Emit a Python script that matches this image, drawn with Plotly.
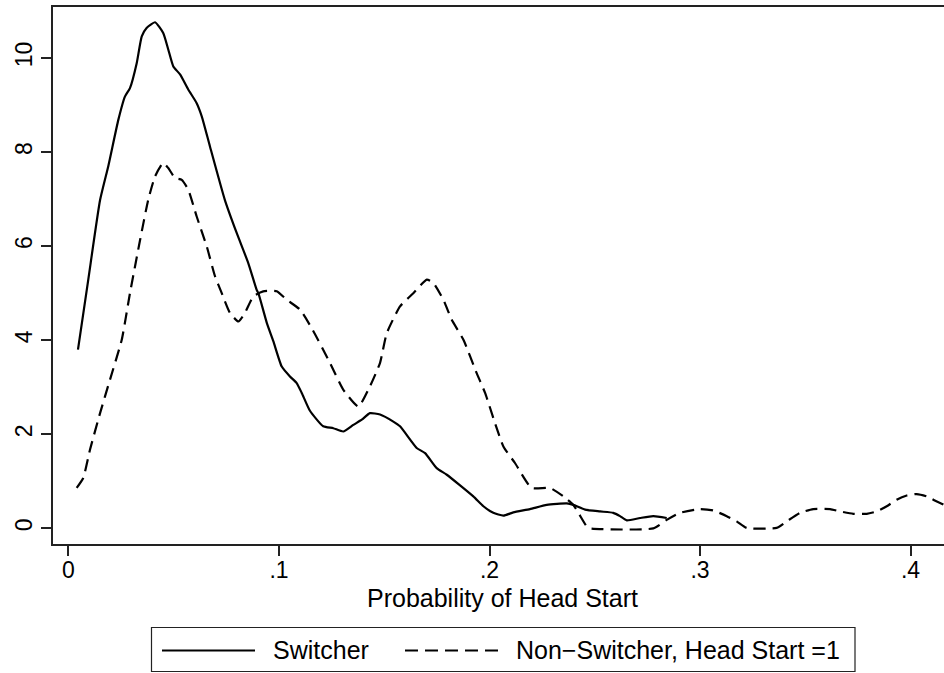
import plotly.graph_objects as go

# Kernel density estimates of the predicted probability of Head Start
switcher_x = [0.0045, 0.0094, 0.0150, 0.0189, 0.0237, 0.0268, 0.0292, 0.0324, 0.0348, 0.0371,
              0.0411, 0.0450, 0.0474, 0.0498, 0.0530, 0.0569, 0.0609, 0.0633, 0.0672, 0.0743,
              0.0799, 0.0854, 0.0894, 0.0902, 0.0942, 0.0973, 0.1013, 0.1052, 0.1084, 0.1108,
              0.1147, 0.1210, 0.1258, 0.1305, 0.1353, 0.1393, 0.1432, 0.1480, 0.1543, 0.1575,
              0.1654, 0.1694, 0.1749, 0.1797, 0.1923, 0.1971, 0.2018, 0.2066, 0.2113, 0.2192,
              0.2272, 0.2367, 0.2398, 0.2454, 0.2525, 0.2588, 0.2620, 0.2652, 0.2715, 0.2778,
              0.2842]
switcher_y = [3.80, 5.29, 6.98, 7.70, 8.69, 9.18, 9.36, 9.89, 10.46, 10.64,
              10.76, 10.53, 10.18, 9.82, 9.65, 9.33, 9.04, 8.76, 8.12, 6.98,
              6.28, 5.64, 5.07, 5.00, 4.37, 3.98, 3.44, 3.23, 3.09, 2.88,
              2.50, 2.17, 2.13, 2.06, 2.20, 2.31, 2.45, 2.42, 2.27, 2.17,
              1.71, 1.60, 1.28, 1.14, 0.68, 0.47, 0.33, 0.27, 0.34, 0.41,
              0.50, 0.53, 0.50, 0.40, 0.36, 0.33, 0.26, 0.17, 0.22, 0.26,
              0.22]

nonswitcher_x = [0.0039, 0.0070, 0.0102, 0.0150, 0.0197, 0.0253, 0.0292, 0.0340, 0.0379, 0.0411,
                 0.0450, 0.0474, 0.0506, 0.0538, 0.0569, 0.0609, 0.0657, 0.0696, 0.0728, 0.0767,
                 0.0807, 0.0838, 0.0878, 0.0925, 0.0989, 0.1037, 0.1100, 0.1160, 0.1242, 0.1305,
                 0.1377, 0.1432, 0.1480, 0.1512, 0.1575, 0.1638, 0.1702, 0.1733, 0.1781, 0.1820,
                 0.1876, 0.1939, 0.1979, 0.2026, 0.2066, 0.2121, 0.2200, 0.2287, 0.2351, 0.2398,
                 0.2462, 0.2477, 0.2778, 0.2842, 0.2905, 0.3000, 0.3063, 0.3127, 0.3174, 0.3222,
                 0.3364, 0.3412, 0.3475, 0.3538, 0.3618, 0.3665, 0.3728, 0.3792, 0.3839, 0.3887,
                 0.3934, 0.3982, 0.4029, 0.4077, 0.4125, 0.4160, 0.4200]
nonswitcher_y = [0.86, 1.07, 1.67, 2.45, 3.16, 4.01, 5.00, 6.13, 6.99, 7.48,
                 7.77, 7.66, 7.45, 7.41, 7.20, 6.63, 5.99, 5.36, 5.00, 4.58,
                 4.40, 4.58, 4.93, 5.04, 5.04, 4.86, 4.65, 4.22, 3.52, 2.95,
                 2.59, 3.02, 3.52, 4.15, 4.72, 5.00, 5.29, 5.22, 4.86, 4.44,
                 4.01, 3.30, 2.88, 2.24, 1.74, 1.39, 0.86, 0.86, 0.68, 0.50,
                 0.04, 0.00, 0.00, 0.18, 0.33, 0.41, 0.38, 0.26, 0.15, 0.01,
                 0.01, 0.15, 0.33, 0.41, 0.41, 0.36, 0.31, 0.31, 0.36, 0.47,
                 0.61, 0.70, 0.73, 0.68, 0.57, 0.50, 0.40]

x_ticks = [0, 0.1, 0.2, 0.3, 0.4]
x_tick_labels = ["0", ".1", ".2", ".3", ".4"]
y_ticks = [0, 2, 4, 6, 8, 10]
y_tick_labels = ["0", "2", "4", "6", "8", "10"]

series_names = ["Switcher", "Non\u2212Switcher, Head Start =1"]
x_title = "Probability of Head Start"

W, H = 944, 673
ML, MR, MT, MB = 53, 0, 7, 129
FONT = "Liberation Sans, Arial, Helvetica, sans-serif"
DASH = "12px,7px"
LINE_W = 2.2


def px_to_paper_x(px):
    return (px - ML) / (W - ML - MR)


def px_to_paper_y(py):
    return (H - MB - py) / (H - MT - MB)


fig = go.Figure()
fig.add_trace(go.Scatter(x=switcher_x, y=switcher_y, mode="lines", name=series_names[0],
                         line=dict(color="black", width=LINE_W, shape="spline", smoothing=0.5),
                         showlegend=False))
fig.add_trace(go.Scatter(x=nonswitcher_x, y=nonswitcher_y, mode="lines", name=series_names[1],
                         line=dict(color="black", width=LINE_W, dash=DASH,
                                   shape="spline", smoothing=0.5),
                         showlegend=False))

# Legend box below the plot, with line samples and labels
shapes = [
    dict(type="rect", xref="paper", yref="paper",
         x0=px_to_paper_x(151.5), x1=px_to_paper_x(855),
         y0=px_to_paper_y(671.5), y1=px_to_paper_y(627.5),
         line=dict(color="#222", width=1.2), fillcolor="white", layer="above"),
    dict(type="line", xref="paper", yref="paper",
         x0=px_to_paper_x(162), x1=px_to_paper_x(255),
         y0=px_to_paper_y(650.5), y1=px_to_paper_y(650.5),
         line=dict(color="black", width=LINE_W)),
    dict(type="line", xref="paper", yref="paper",
         x0=px_to_paper_x(405), x1=px_to_paper_x(499),
         y0=px_to_paper_y(650.5), y1=px_to_paper_y(650.5),
         line=dict(color="black", width=LINE_W, dash="13px,7px")),
]

annotations = [
    dict(text=series_names[0], xref="paper", yref="paper",
         x=px_to_paper_x(271), y=px_to_paper_y(650), xanchor="left", yanchor="middle",
         showarrow=False, font=dict(family=FONT, size=25, color="black")),
    dict(text=series_names[1], xref="paper", yref="paper",
         x=px_to_paper_x(514), y=px_to_paper_y(650), xanchor="left", yanchor="middle",
         showarrow=False, font=dict(family=FONT, size=25, color="black")),
    dict(text=x_title, xref="paper", yref="paper",
         x=px_to_paper_x(502), y=px_to_paper_y(598), xanchor="center", yanchor="middle",
         showarrow=False, font=dict(family=FONT, size=25, color="black")),
]

fig.update_layout(
    width=W, height=H,
    margin=dict(l=ML, r=MR, t=MT, b=MB, pad=0),
    paper_bgcolor="white", plot_bgcolor="white",
    font=dict(family=FONT, size=23, color="black"),
    shapes=shapes, annotations=annotations,
    showlegend=False,
)
fig.update_xaxes(
    range=[-0.00736, 0.4159],
    tickvals=x_ticks, ticktext=x_tick_labels,
    ticks="outside", ticklen=10, tickwidth=1.5, tickcolor="#222",
    ticklabelstandoff=-5,
    showline=True, linecolor="#222", linewidth=1.5, mirror=True,
    showgrid=False, zeroline=False,
    tickfont=dict(family=FONT, size=23, color="black"),
)
fig.update_yaxes(
    range=[-0.332, 11.084],
    tickvals=y_ticks, ticktext=y_tick_labels, tickangle=-90,
    ticks="outside", ticklen=10, tickwidth=1.5, tickcolor="#222",
    showline=True, linecolor="#222", linewidth=1.5, mirror=False,
    showgrid=False, zeroline=False,
    tickfont=dict(family=FONT, size=23, color="black"),
)

fig.write_html("out.html")
